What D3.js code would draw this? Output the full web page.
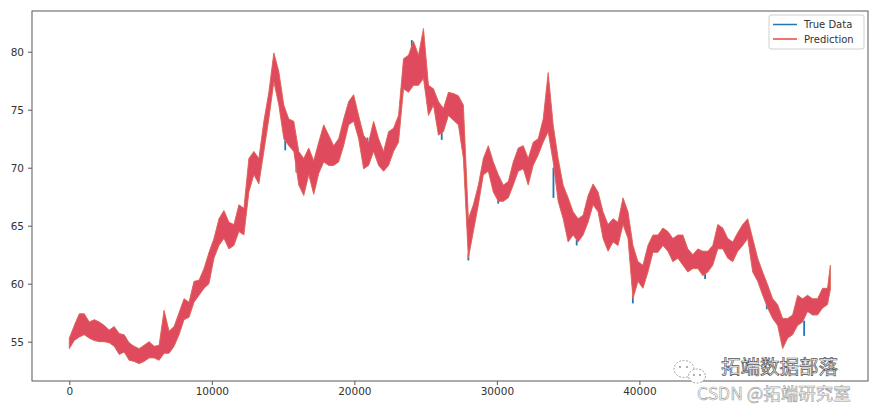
<!DOCTYPE html>
<html><head><meta charset="utf-8">
<script src="https://cdn.jsdelivr.net/npm/d3@7"></script>
<style>body{margin:0;background:#fff}svg{display:block}</style>
</head><body>
<svg id="c" width="881" height="411"></svg>
<script>
// ---- data (envelope of the noisy series every 350 samples) ----
const sampleIdx = d3.range(0, 53201, 350).concat([53400]);
const bandHigh = [55.3,56.4,57.4,57.4,56.7,56.9,56.7,56.4,56.0,56.3,55.7,55.6,54.9,54.6,54.4,54.7,55.0,54.6,54.7,57.7,
55.9,56.3,57.5,58.7,58.4,60.2,60.3,61.3,62.7,63.9,65.6,66.3,65.3,65.1,66.8,66.5,70.8,71.4,70.8,74.0,
76.5,79.9,78.3,75.4,74.2,74.0,71.4,70.8,71.7,70.6,72.2,73.7,72.8,71.9,72.5,74.2,75.7,76.3,74.5,72.8,
72.2,74.0,72.5,71.4,73.1,73.4,74.5,79.4,79.7,80.9,79.7,82.0,77.1,76.8,75.7,75.1,76.5,76.4,76.2,75.4,
65.6,66.8,68.5,70.8,71.9,70.5,69.4,68.5,68.8,70.5,71.7,71.9,70.8,72.2,72.5,74.2,78.2,73.7,70.8,68.5,
67.4,66.2,65.6,65.9,67.6,68.6,67.9,66.2,65.1,65.6,65.3,67.4,66.2,63.3,61.9,61.6,63.3,64.2,64.2,64.8,
64.5,63.9,64.2,64.2,63.0,62.5,63.0,62.8,62.8,63.3,65.1,64.8,63.9,63.6,64.4,65.1,65.6,63.9,62.2,61.0,
59.9,58.7,58.2,57.0,57.0,57.3,59.0,58.7,59.0,58.7,58.7,59.6,59.6,61.6];
const bandLow = [54.4,55.1,55.4,55.6,55.3,55.1,55.0,55.0,54.9,54.6,53.9,54.1,53.4,53.3,53.1,53.3,53.6,53.6,53.4,54.0,
54.0,54.6,55.6,56.9,57.1,58.4,59.0,59.6,60.0,62.2,63.3,63.9,63.0,63.3,64.5,64.2,67.9,69.4,68.6,71.4,
74.2,77.4,75.4,72.5,71.9,71.4,68.5,67.6,69.4,67.7,69.5,70.5,70.2,70.2,70.5,71.9,73.7,74.0,72.5,69.9,
70.2,71.4,70.2,69.7,70.2,71.4,72.2,76.8,76.5,77.1,77.1,77.7,74.5,75.4,72.8,73.1,74.5,74.1,73.7,70.8,
62.2,64.5,66.8,69.4,69.7,67.9,67.1,67.1,67.4,68.5,69.7,69.9,68.5,70.2,71.1,72.2,73.1,70.5,67.1,65.6,
63.6,64.2,63.6,64.2,65.3,66.8,66.2,63.9,62.8,63.6,63.3,65.1,63.9,58.7,60.2,59.6,61.0,62.7,62.7,63.3,
62.8,61.9,62.2,61.6,61.0,61.3,61.3,60.7,61.0,61.6,63.0,63.0,62.2,61.9,62.8,63.3,63.9,61.0,60.2,59.0,
57.9,57.0,56.4,54.4,55.3,55.6,56.4,56.7,57.6,57.3,57.3,57.9,58.2,59.5];
// places where the true data pokes out of the prediction band
const spikeIdx  = [15150,15930,16540,20920,24030,26130,28000,30090,33970,35600,39540,44610,48940,51560];
const spikeLow  = [71.5,69.6,69.0,71.9,80.0,72.4,62.0,66.9,67.4,63.3,58.3,60.4,57.8,55.5];
const spikeHigh = [72.6,70.6,69.8,72.6,81.0,73.1,62.6,67.4,70.0,63.8,59.0,60.9,58.4,56.8];
const xTicks = [0,10000,20000,30000,40000];
const yTicks = [55,60,65,70,75,80];
const seriesNames = ["True Data","Prediction"];
const seriesColors = ["#1f77b4","#e8463c"];

const svg = d3.select("#c");
const L=32,R=868,T=11,B=381;
const x = d3.scaleLinear().domain([-2618,56040]).range([L,R]);
const y = d3.scaleLinear().domain([51.61,83.51]).range([B,T]);

const band = sampleIdx.map((d,i)=>({i:d,lo:bandLow[i],hi:bandHigh[i]}));
const area = d3.area().x(d=>x(d.i)).y0(d=>y(d.lo)).y1(d=>y(d.hi));

// true data (underneath)
svg.append("path").datum(band).attr("d",area).attr("fill",seriesColors[0]);
spikeIdx.forEach((s,i)=>{
  svg.append("path").datum([[s,spikeLow[i]],[s,spikeHigh[i]]])
    .attr("d",d3.line().x(d=>x(d[0])).y(d=>y(d[1])))
    .attr("stroke",seriesColors[0]).attr("stroke-width",1.8).attr("fill","none");
});
// prediction band
svg.append("path").datum(band).attr("d",area)
  .attr("fill","#e04a5f").attr("stroke","#ea6a55").attr("stroke-width",0.9).attr("stroke-linejoin","round");

// axes
const gx = svg.append("g").attr("transform",`translate(0,${B})`)
  .call(d3.axisBottom(x).tickValues(xTicks).tickSize(4).tickPadding(3).tickFormat(d3.format("d")));
const gy = svg.append("g").attr("transform",`translate(${L},0)`)
  .call(d3.axisLeft(y).tickValues(yTicks).tickSize(4).tickPadding(4));
[gx,gy].forEach(g=>{
  g.select(".domain").remove();
  g.selectAll("line").attr("stroke","#555");
  g.selectAll("text").attr("font-family","DejaVu Sans").attr("font-size",10.5).attr("fill","#333");
});
svg.append("rect").attr("x",L).attr("y",T).attr("width",R-L).attr("height",B-T)
  .attr("fill","none").attr("stroke","#666").attr("stroke-width",1.1);

// legend
const lg = svg.append("g");
lg.append("rect").attr("x",769).attr("y",15).attr("width",95).attr("height",34).attr("rx",2)
  .attr("fill","#fff").attr("fill-opacity",0.85).attr("stroke","#d0d0d0");
seriesNames.forEach((n,i)=>{
  const yy = 24.5 + i*14.5;
  lg.append("line").attr("x1",773).attr("x2",797).attr("y1",yy).attr("y2",yy)
    .attr("stroke",seriesColors[i]).attr("stroke-width",1.5);
  lg.append("text").attr("x",804).attr("y",yy).attr("dy","0.35em")
    .attr("font-family","DejaVu Sans").attr("font-size",10).attr("fill","#333").text(n);
});

// watermark
const wm = svg.append("g");
wm.append("ellipse").attr("cx",684).attr("cy",369).attr("rx",10).attr("ry",8.5)
  .attr("fill","#fff").attr("stroke","#999").attr("stroke-width",0.9).attr("stroke-dasharray","2,1.5");
wm.append("ellipse").attr("cx",697).attr("cy",376).attr("rx",8.5).attr("ry",7)
  .attr("fill","#fff").attr("stroke","#999").attr("stroke-width",0.9).attr("stroke-dasharray","2,1.5");
[[680,367],[687,367],[694,375],[700,375]].forEach(p=>wm.append("circle").attr("cx",p[0]).attr("cy",p[1]).attr("r",0.9).attr("fill","#888"));
wm.append("text").attr("x",721).attr("y",374).attr("font-family","Noto Sans CJK SC").attr("font-size",19.5)
  .attr("fill","#fff").attr("stroke","#555").attr("stroke-width",0.7).text("拓端数据部落");
wm.append("text").attr("x",697).attr("y",400).attr("font-family","Noto Sans CJK SC").attr("font-size",17.5)
  .attr("fill","#fff").attr("fill-opacity",0.4).attr("stroke","#999").attr("stroke-width",0.6).text("CSDN @拓端研究室");
</script>
</body></html>
